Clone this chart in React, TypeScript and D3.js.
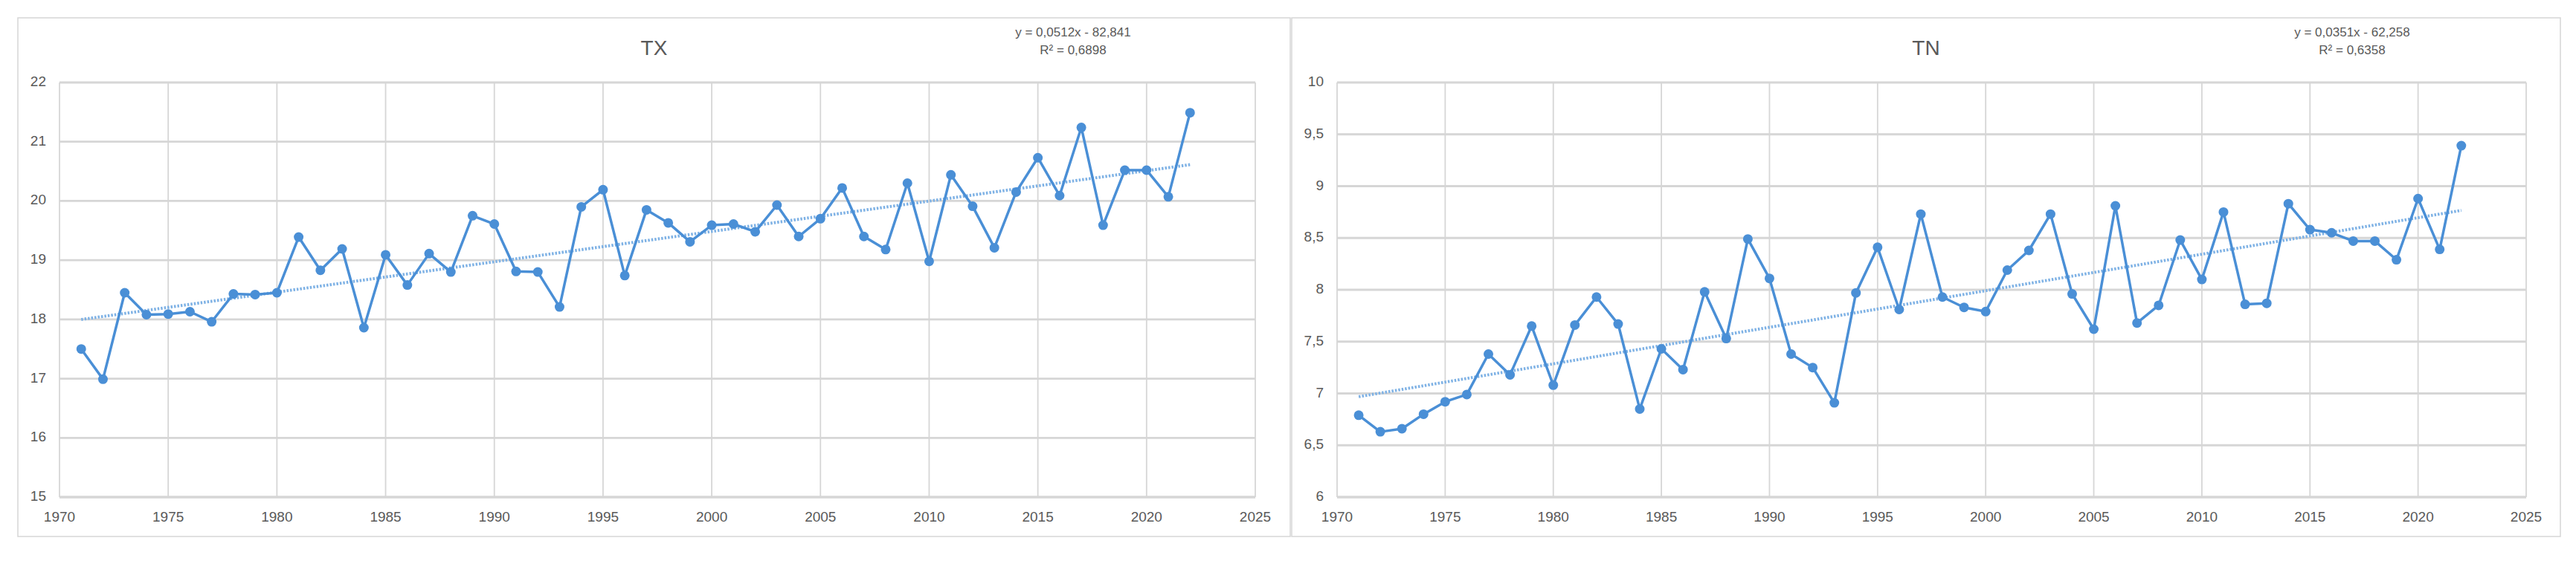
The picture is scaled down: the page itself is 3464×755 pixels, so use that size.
import React from 'react';
import * as d3 from 'd3';

const YEARS = [
  1971, 1972, 1973, 1974, 1975, 1976, 1977, 1978, 1979, 1980,
  1981, 1982, 1983, 1984, 1985, 1986, 1987, 1988, 1989, 1990,
  1991, 1992, 1993, 1994, 1995, 1996, 1997, 1998, 1999, 2000,
  2001, 2002, 2003, 2004, 2005, 2006, 2007, 2008, 2009, 2010,
  2011, 2012, 2013, 2014, 2015, 2016, 2017, 2018, 2019, 2020,
  2021, 2022,
];

const TX_VALUES = [
  17.5, 16.99, 18.45, 18.08, 18.09, 18.13, 17.96, 18.43, 18.42, 18.45,
  19.39, 18.83, 19.19, 17.86, 19.09, 18.58, 19.11, 18.8, 19.75, 19.61,
  18.81, 18.8, 18.21, 19.9, 20.19, 18.74, 19.85, 19.63, 19.31, 19.59,
  19.61, 19.48, 19.93, 19.4, 19.7, 20.22, 19.4, 19.18, 20.3, 18.98,
  20.44, 19.91, 19.21, 20.15, 20.73, 20.09, 21.24, 19.59, 20.52, 20.52,
  20.07, 21.49,
];

const TN_VALUES = [
  6.79, 6.63, 6.66, 6.8, 6.92, 6.99, 7.38, 7.18, 7.65, 7.08,
  7.66, 7.93, 7.67, 6.85, 7.43, 7.23, 7.98, 7.53, 8.49, 8.11,
  7.38, 7.25, 6.91, 7.97, 8.41, 7.81, 8.73, 7.93, 7.83, 7.79,
  8.19, 8.38, 8.73, 7.96, 7.62, 8.81, 7.68, 7.85, 8.48, 8.1,
  8.75, 7.86, 7.87, 8.83, 8.58, 8.55, 8.47, 8.47, 8.29, 8.88,
  8.39, 9.39,
];

const X_TICKS = [1970, 1975, 1980, 1985, 1990, 1995, 2000, 2005, 2010, 2015, 2020, 2025];
const TX_TICKS = [15, 16, 17, 18, 19, 20, 21, 22];
const TN_TICKS = [6, 6.5, 7, 7.5, 8, 8.5, 9, 9.5, 10];

const TX_TITLE = 'TX';
const TN_TITLE = 'TN';
const TX_EQUATION = ['y = 0,0512x - 82,841', 'R² = 0,6898'];
const TN_EQUATION = ['y = 0,0351x - 62,258', 'R² = 0,6358'];

const LINE_COLOR = '#4a8fd6';
const TREND_COLOR = '#7fb2e5';
const GRID_COLOR = '#d6d6d6';
const TEXT_COLOR = '#595959';
const FONT = '"Liberation Sans Narrow", "Liberation Sans", Arial, sans-serif';

const fmtComma = (v: number) => String(v).replace('.', ',');

function linreg(xs: number[], ys: number[]) {
  const mx = d3.mean(xs)!;
  const my = d3.mean(ys)!;
  let num = 0;
  let den = 0;
  xs.forEach((x, i) => {
    num += (x - mx) * (ys[i] - my);
    den += (x - mx) * (x - mx);
  });
  const slope = num / den;
  return { slope, intercept: my - slope * mx };
}

type PanelProps = {
  box: { x0: number; x1: number; y0: number; y1: number };
  plot: { left: number; right: number; top: number; bottom: number };
  title: string;
  values: number[];
  yTicks: number[];
  equation: string[];
  eqX: number;
};

function Panel({ box, plot, title, values, yTicks, equation, eqX }: PanelProps) {
  const x = d3.scaleLinear().domain([X_TICKS[0], X_TICKS[X_TICKS.length - 1]]).range([plot.left, plot.right]);
  const y = d3
    .scaleLinear()
    .domain([yTicks[0], yTicks[yTicks.length - 1]])
    .range([plot.bottom, plot.top]);
  const line = d3
    .line<number>()
    .x((_, i) => x(YEARS[i]))
    .y((d) => y(d));
  const { slope, intercept } = linreg(YEARS, values);
  const x0 = YEARS[0];
  const x1 = YEARS[YEARS.length - 1];
  const titleX = (box.x0 + box.x1) / 2;
  return (
    <g>
      <rect
        x={box.x0}
        y={box.y0}
        width={box.x1 - box.x0}
        height={box.y1 - box.y0}
        fill="#fff"
        stroke={GRID_COLOR}
        strokeWidth={1.5}
      />
      {X_TICKS.map((t) => (
        <line key={'v' + t} x1={x(t)} x2={x(t)} y1={plot.top} y2={plot.bottom} stroke={GRID_COLOR} strokeWidth={1.8} />
      ))}
      {yTicks.map((t) => (
        <line
          key={'h' + t}
          x1={plot.left}
          x2={plot.right}
          y1={y(t)}
          y2={y(t)}
          stroke={GRID_COLOR}
          strokeWidth={t === yTicks[0] ? 3.5 : 2.8}
        />
      ))}
      {yTicks.map((t) => (
        <text
          key={'yl' + t}
          x={plot.left - 18}
          y={y(t)}
          textAnchor="end"
          dominantBaseline="middle"
          fontSize={19}
          fill={TEXT_COLOR}
          fontFamily={FONT}
        >
          {fmtComma(t)}
        </text>
      ))}
      {X_TICKS.map((t) => (
        <text
          key={'xl' + t}
          x={x(t)}
          y={plot.bottom + 28}
          textAnchor="middle"
          dominantBaseline="middle"
          fontSize={19}
          fill={TEXT_COLOR}
          fontFamily={FONT}
        >
          {t}
        </text>
      ))}
      <line
        x1={x(x0)}
        x2={x(x1)}
        y1={y(slope * x0 + intercept)}
        y2={y(slope * x1 + intercept)}
        stroke={TREND_COLOR}
        strokeWidth={4}
        strokeDasharray="2.5 2"
      />
      <path d={line(values) || ''} fill="none" stroke={LINE_COLOR} strokeWidth={3.5} strokeLinejoin="round" />
      {values.map((v, i) => (
        <circle key={'m' + i} cx={x(YEARS[i])} cy={y(v)} r={6.5} fill={LINE_COLOR} />
      ))}
      <text x={titleX} y={74} textAnchor="middle" fontSize={28} fill={TEXT_COLOR} fontFamily={FONT}>
        {title}
      </text>
      {equation.map((s, i) => (
        <text
          key={'eq' + i}
          x={eqX}
          y={49 + i * 24}
          textAnchor="middle"
          fontSize={17}
          fill={TEXT_COLOR}
          fontFamily={FONT}
        >
          {s}
        </text>
      ))}
    </g>
  );
}

export default function App() {
  return (
    <svg
      width={3464}
      height={755}
      style={{ position: 'absolute', left: 0, top: 0, background: '#fff' }}
    >
      <rect x={0} y={0} width={3464} height={755} fill="#fff" />
      <Panel
        box={{ x0: 24, x1: 1735, y0: 24, y1: 722 }}
        plot={{ left: 80, right: 1688, top: 111, bottom: 669 }}
        title={TX_TITLE}
        values={TX_VALUES}
        yTicks={TX_TICKS}
        equation={TX_EQUATION}
        eqX={1443}
      />
      <Panel
        box={{ x0: 1737, x1: 3443, y0: 24, y1: 722 }}
        plot={{ left: 1798, right: 3397, top: 111, bottom: 669 }}
        title={TN_TITLE}
        values={TN_VALUES}
        yTicks={TN_TICKS}
        equation={TN_EQUATION}
        eqX={3163}
      />
    </svg>
  );
}
